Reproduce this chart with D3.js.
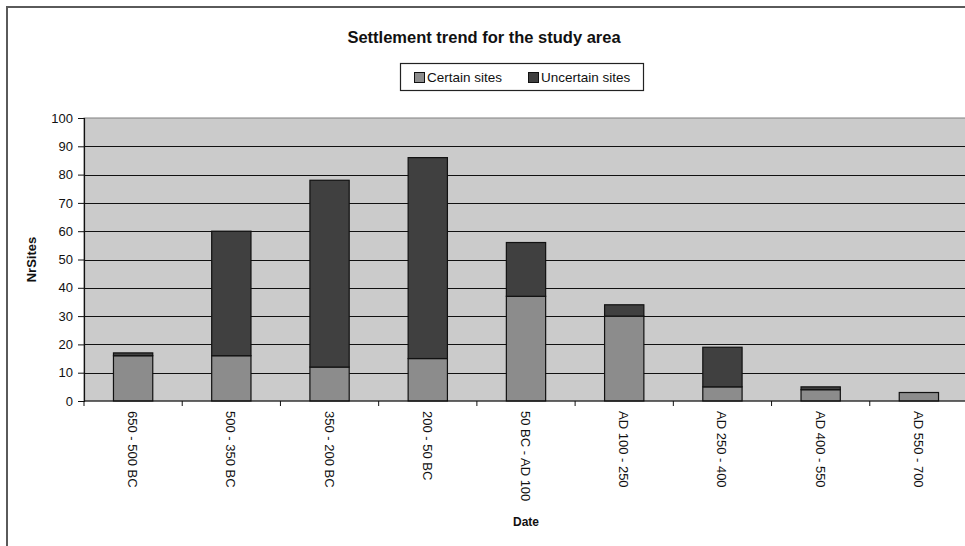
<!DOCTYPE html>
<html>
<head>
<meta charset="utf-8">
<script src="https://cdn.jsdelivr.net/npm/d3@7"></script>
<style>
  html, body { margin: 0; padding: 0; background: #fff; }
  svg { display: block; font-family: Arial, "Liberation Sans", sans-serif; }
</style>
</head>
<body>
<svg id="chart" width="965" height="546"></svg>
<script>
// Date periods and number of sites per period
const periods = ["650 - 500 BC", "500 - 350 BC", "350 - 200 BC", "200 - 50 BC", "50 BC - AD 100",
                 "AD 100 - 250", "AD 250 - 400", "AD 400 - 550", "AD 550 - 700"];
const certainSites   = [16, 16, 12, 15, 37, 30, 5, 4, 3];
const uncertainSites = [1, 44, 66, 71, 19, 4, 14, 1, 0];
const seriesNames = ["Certain sites", "Uncertain sites"];
const seriesColors = ["#8c8c8c", "#404040"];
const yTicks = [0, 10, 20, 30, 40, 50, 60, 70, 80, 90, 100];

const svg = d3.select("#chart");
const W = 965, H = 546;
const plot = { left: 84, right: 968, top: 118, bottom: 401 };

// outer chart frame
svg.append("rect").attr("x", 7).attr("y", 7).attr("width", W + 10).attr("height", H + 10)
  .attr("fill", "#fff").attr("stroke", "#5a5a5a").attr("stroke-width", 2);

const x = d3.scaleBand().domain(periods).range([plot.left, plot.right]).paddingInner(0.6).paddingOuter(0.3);
const xb = d3.scaleBand().domain(periods).range([plot.left, plot.right]);
const y = d3.scaleLinear().domain([0, 100]).range([plot.bottom, plot.top]);

// plot background
svg.append("rect").attr("x", plot.left).attr("y", plot.top)
  .attr("width", plot.right - plot.left).attr("height", plot.bottom - plot.top)
  .attr("fill", "#cbcbcb").attr("stroke", "#808080").attr("stroke-width", 1);

// horizontal gridlines
svg.append("g").selectAll("line").data(yTicks.filter(t => t > 0 && t < 100)).join("line")
  .attr("x1", plot.left).attr("x2", plot.right)
  .attr("y1", d => Math.round(y(d)) + 0.5).attr("y2", d => Math.round(y(d)) + 0.5)
  .attr("stroke", "#111").attr("stroke-width", 1);

// stacked bars
const rows = periods.map((p, i) => ({ period: p, certain: certainSites[i], uncertain: uncertainSites[i] }));
const stack = d3.stack().keys(["certain", "uncertain"])(rows);

svg.append("g").selectAll("g").data(stack).join("g")
  .attr("fill", (d, i) => seriesColors[i])
  .selectAll("rect").data(d => d.filter(s => s[1] - s[0] > 0)).join("rect")
  .attr("x", d => x(d.data.period))
  .attr("width", x.bandwidth())
  .attr("y", d => y(d[1]))
  .attr("height", d => y(d[0]) - y(d[1]))
  .attr("stroke", "#111").attr("stroke-width", 1.2);

// y axis
const yAxis = svg.append("g").attr("transform", `translate(${plot.left},0)`)
  .call(d3.axisLeft(y).tickValues(yTicks).tickSize(6).tickPadding(5));
yAxis.select(".domain").attr("stroke", "#111").attr("stroke-width", 1.2);
yAxis.selectAll(".tick line").attr("stroke", "#111");
yAxis.selectAll("text").attr("font-size", 13).attr("fill", "#111")
  .attr("font-family", "Arial, 'Liberation Sans', sans-serif");

// x axis with ticks between categories
const xAxis = svg.append("g").attr("transform", `translate(0,${plot.bottom})`);
xAxis.append("line").attr("x1", plot.left).attr("x2", plot.right).attr("y1", 0).attr("y2", 0)
  .attr("stroke", "#111").attr("stroke-width", 1.2);
xAxis.selectAll("line.sep").data(periods).join("line").attr("class", "sep")
  .attr("x1", d => xb(d)).attr("x2", d => xb(d)).attr("y1", 0).attr("y2", 5)
  .attr("stroke", "#111");
xAxis.selectAll("text").data(periods).join("text")
  .attr("transform", d => `translate(${xb(d) + xb.bandwidth() / 2 - 5},10) rotate(90)`)
  .attr("text-anchor", "start")
  .attr("font-size", 13).attr("fill", "#111")
  .text(d => d);

// title
svg.append("text").attr("x", 484).attr("y", 43).attr("text-anchor", "middle")
  .attr("font-size", 16.5).attr("font-weight", "bold").attr("fill", "#111")
  .text("Settlement trend for the study area");

// legend
const lg = svg.append("g");
lg.append("rect").attr("x", 400.5).attr("y", 63.5).attr("width", 243).attr("height", 27)
  .attr("fill", "#fff").attr("stroke", "#222").attr("stroke-width", 1.2);
const legendX = [414, 528];
seriesNames.forEach((name, i) => {
  lg.append("rect").attr("x", legendX[i] + 0.5).attr("y", 72.5).attr("width", 10).attr("height", 10)
    .attr("fill", seriesColors[i]).attr("stroke", "#111");
  lg.append("text").attr("x", legendX[i] + 13).attr("y", 82).attr("font-size", 13.5).attr("fill", "#111")
    .text(name);
});

// axis titles
svg.append("text").attr("x", 526).attr("y", 526).attr("text-anchor", "middle")
  .attr("font-size", 12).attr("font-weight", "bold").attr("fill", "#111").text("Date");
svg.append("text").attr("transform", `translate(36,${(plot.top + plot.bottom) / 2}) rotate(-90)`)
  .attr("text-anchor", "middle")
  .attr("font-size", 13).attr("font-weight", "bold").attr("fill", "#111").text("NrSites");
</script>
</body>
</html>
